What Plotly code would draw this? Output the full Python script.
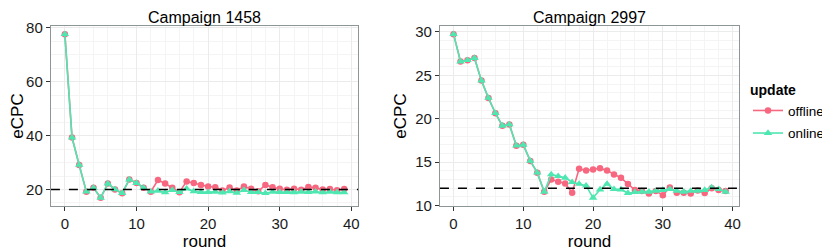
import plotly.graph_objects as go

rounds = list(range(40))

c1458_offline = [77.7, 39.3, 29.1, 19.2, 20.6, 16.9, 22.2, 20.0, 18.6, 23.7,
                 22.4, 20.6, 19.2, 23.5, 22.2, 20.6, 19.0, 23.0, 22.4, 21.7,
                 21.1, 20.8, 19.6, 20.7, 19.6, 21.1, 20.3, 19.3, 21.7, 20.8,
                 20.3, 19.9, 20.3, 19.9, 20.9, 20.6, 20.0, 20.2, 19.7, 20.2]
c1458_online = [77.7, 39.3, 29.1, 19.2, 20.6, 16.9, 22.2, 20.0, 18.6, 23.7,
                22.4, 20.6, 19.2, 19.5, 18.9, 19.8, 19.0, 20.3, 19.3, 19.0,
                19.0, 19.1, 18.8, 19.3, 18.7, 19.8, 19.0, 19.0, 18.6, 19.1,
                19.0, 19.0, 18.9, 19.1, 19.0, 19.2, 18.9, 19.1, 18.9, 18.9]

c2997_offline = [29.75, 26.6, 26.75, 27.0, 24.4, 22.4, 20.65, 19.2, 19.35, 16.9,
                 17.0, 15.15, 13.8, 11.6, 13.0, 12.75, 12.56, 11.5, 14.25, 14.05,
                 14.15, 14.3, 14.05, 13.6, 13.2, 12.5, 11.8, 11.7, 11.4, 11.7,
                 11.2, 12.1, 11.5, 11.5, 11.4, 11.75, 11.45, 12.0, 11.8, 11.7]
c2997_online = [29.75, 26.6, 26.75, 27.0, 24.4, 22.4, 20.65, 19.2, 19.35, 16.9,
                17.0, 15.15, 13.8, 11.6, 13.6, 13.4, 13.2, 12.7, 12.5, 12.3,
                10.9, 11.85, 12.5, 11.9, 11.85, 11.45, 11.55, 11.6, 11.6, 11.7,
                11.8, 11.9, 11.7, 11.6, 11.7, 11.7, 11.8, 12.1, 11.9, 11.6]

targets = [20, 12]
titles = ["Campaign 1458", "Campaign 2997"]

OFF = "#F7677F"
ON = "#4FE7B1"
FONT = "Liberation Sans"

# page body has an 8px default margin; size the figure to fill the rest
W, H, OFFS = 822, 243, 8


def px_x(p):
    return (p - OFFS) / W


def px_y(p):
    return 1 - (p - OFFS) / H


fig = go.Figure()

panels = [(c1458_offline, c1458_online, "x", "y"),
          (c2997_offline, c2997_online, "x2", "y2")]
for i, (off, on, xa, ya) in enumerate(panels):
    fig.add_trace(go.Scatter(x=rounds, y=off, xaxis=xa, yaxis=ya, name="offline",
                             mode="lines+markers", legendgroup="offline",
                             showlegend=(i == 0),
                             line=dict(color=OFF, width=1.6),
                             marker=dict(symbol="circle", size=6.5, color=OFF)))
    fig.add_trace(go.Scatter(x=rounds, y=on, xaxis=xa, yaxis=ya, name="online",
                             mode="lines+markers", legendgroup="online",
                             showlegend=(i == 0),
                             line=dict(color=ON, width=1.6),
                             marker=dict(symbol="triangle-up", size=7.5, color=ON)))
    fig.add_trace(go.Scatter(x=[-1.95, 40.95], y=[targets[i], targets[i]], xaxis=xa, yaxis=ya,
                             mode="lines", showlegend=False, hoverinfo="skip",
                             line=dict(color="black", width=1.6, dash="dash")))

axis_common = dict(
    automargin=False,
    showgrid=True, gridcolor="#EBEBEB", gridwidth=1,
    showline=True, linecolor="#8C9696", linewidth=1.2, mirror=True,
    ticks="outside", ticklen=4, tickcolor="#333333", tickwidth=1,
    tickfont=dict(family=FONT, size=15, color="#1a1a1a"),
    zeroline=False,
    minor=dict(showgrid=True, gridcolor="#F4F4F4", gridwidth=1),
)

XL = [px_x(51), px_x(359)]
XR = [px_x(441), px_x(741)]
YD = [px_y(206), px_y(26)]

fig.update_layout(
    width=W, height=H,
    margin=dict(l=0, r=0, t=0, b=0),
    paper_bgcolor="white", plot_bgcolor="white",
    font=dict(family=FONT, color="black"),
    xaxis=dict(domain=XL, range=[-1.95, 40.95], tickvals=[0, 10, 20, 30, 40],
               title=dict(text="round", font=dict(size=17), standoff=0), anchor="y", **axis_common),
    yaxis=dict(domain=YD, range=[13.86, 80.74], tickvals=[20, 40, 60, 80],
               title=dict(text="eCPC", font=dict(size=17), standoff=2), anchor="x", **axis_common),
    xaxis2=dict(domain=XR, range=[-1.95, 40.95], tickvals=[0, 10, 20, 30, 40],
                title=dict(text="round", font=dict(size=17), standoff=0), anchor="y2", **axis_common),
    yaxis2=dict(domain=YD, range=[9.96, 30.69], tickvals=[10, 15, 20, 25, 30],
                title=dict(text="eCPC", font=dict(size=17), standoff=4), anchor="x2", **axis_common),
    legend=dict(x=px_x(750), y=px_y(77), xanchor="left", yanchor="top",
                title=dict(text="<b>update</b>", font=dict(size=14)),
                font=dict(size=13.5), tracegroupgap=2, itemwidth=30),
    annotations=[
        dict(text=titles[0], x=sum(XL) / 2, y=1.0, xref="paper", yref="paper",
             xanchor="center", yanchor="top", showarrow=False, borderpad=0,
             font=dict(size=16)),
        dict(text=titles[1], x=sum(XR) / 2, y=1.0, xref="paper", yref="paper",
             xanchor="center", yanchor="top", showarrow=False, borderpad=0,
             font=dict(size=16)),
    ],
)

fig.write_html("out.html", config={"displayModeBar": False})
